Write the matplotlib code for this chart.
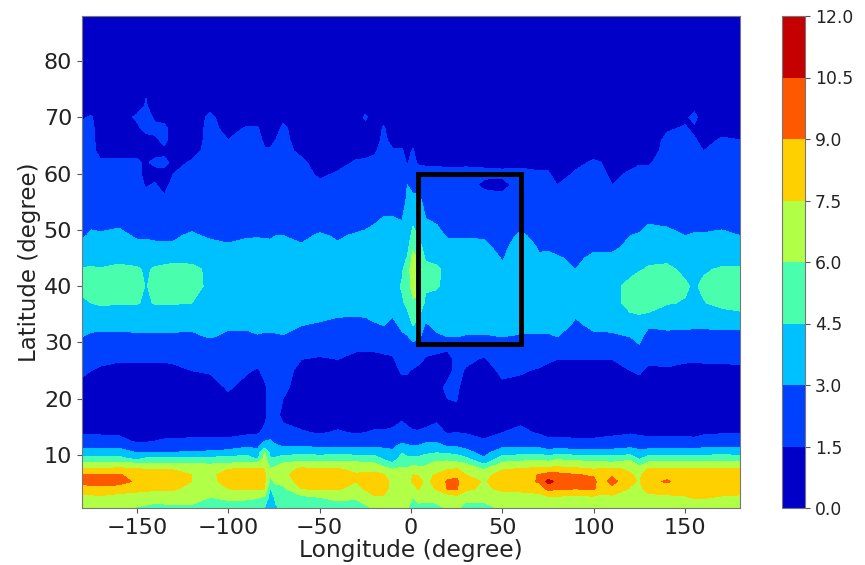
import numpy as np
import matplotlib
matplotlib.use("Agg")
import matplotlib.pyplot as plt

lats = [0.6, 2.5, 4, 5.3, 6.5, 7.5, 8.5, 9.5, 10.5, 11.5, 12.5, 14,
        17, 22, 25, 27, 29, 31, 33, 35, 37, 40, 43, 45, 47, 49, 51, 55, 58, 60, 62, 64, 66, 68, 70, 72, 88]

# values read column by column: longitude -> 12 low-latitude values, then 25 higher-latitude values
low_by_lon = {
 -180: [6.4,7.0,8.2,9.6,9.0,7.6,6.2,4.8,3.6,2.6,2.0,1.3],
 -175: [6.4,7.1,8.4,9.6,9.1,7.6,6.2,4.8,3.6,2.6,2.0,1.3],
 -170: [6.4,7.2,8.6,9.6,9.2,7.6,6.2,4.7,3.6,2.7,2.0,1.3],
 -160: [6.2,6.8,8.4,9.5,9.1,7.9,6.4,4.9,3.7,2.7,1.9,1.3],
 -150: [5.9,6.7,8.0,8.8,8.6,7.6,6.1,3.7,2.9,2.1,1.3,1.1],
 -145: [5.8,6.5,7.9,8.5,8.4,7.5,6.0,4.5,3.0,2.1,1.3,1.1],
 -140: [5.7,6.4,7.8,8.4,8.3,7.4,6.0,4.5,3.0,2.2,1.5,1.1],
 -135: [5.7,6.5,7.8,8.3,8.3,7.5,6.0,4.6,3.0,2.3,1.6,1.2],
 -130: [5.8,6.5,7.7,8.1,8.2,7.4,6.0,4.6,3.0,2.4,1.6,1.2],
 -120: [5.8,6.4,7.0,7.5,7.5,7.0,6.0,4.6,3.1,2.4,1.7,1.2],
 -110: [5.6,6.0,6.8,7.1,7.2,6.8,5.9,4.7,3.2,2.4,1.7,1.2],
 -100: [5.5,6.2,7.5,8.0,8.0,7.5,6.1,4.8,3.4,2.5,1.7,1.2],
 -90:  [5.4,6.2,7.7,8.3,8.3,7.7,6.2,5.0,3.9,2.9,2.0,1.3],
 -84:  [5.2,6.1,7.6,8.2,8.2,7.8,6.2,4.2,3.6,2.7,1.9,1.4],
 -80:  [4.4,5.8,7.5,7.6,7.6,7.5,7.0,6.5,6.1,4.0,3.0,1.7],
 -77:  [3.5,3.8,4.4,5.6,6.1,6.1,5.3,4.5,4.0,3.6,3.1,2.4],
 -74:  [4.3,4.8,5.6,6.3,6.6,6.3,5.7,4.6,3.8,3.2,2.7,2.2],
 -70:  [4.9,5.3,5.7,6.3,7.0,6.8,6.1,5.0,3.9,3.0,2.5,1.9],
 -60:  [4.6,5.6,7.5,8.3,8.4,7.8,6.5,5.3,3.9,3.0,2.4,1.6],
 -50:  [5.2,6.0,7.6,8.2,8.3,7.6,6.4,5.2,3.8,2.9,2.1,1.4],
 -40:  [5.4,6.3,7.6,8.2,8.2,7.6,6.5,5.3,3.9,2.9,2.2,1.6],
 -30:  [5.2,6.2,7.2,7.5,7.6,7.2,6.4,5.1,3.9,2.9,2.1,1.4],
 -25:  [5.6,6.8,7.6,7.9,7.8,7.1,6.2,5.0,3.8,2.9,2.1,1.5],
 -20:  [6.2,7.4,8.0,8.4,8.0,7.0,6.1,5.0,3.8,2.9,2.2,1.6],
 -15:  [6.0,7.4,7.9,7.9,7.6,6.6,5.2,4.2,3.5,2.8,2.2,1.6],
 -10:  [6.2,6.8,7.1,7.2,6.8,6.0,4.6,3.7,3.2,2.8,2.3,1.7],
 -5:   [6.1,6.5,7.0,7.1,6.8,6.2,5.6,5.0,4.4,3.5,2.7,1.7],
 -2:   [6.1,6.4,7.0,7.1,6.9,6.1,5.5,4.7,4.0,3.2,2.6,1.7],
 1:    [5.0,6.0,6.8,7.7,7.5,6.6,5.7,4.7,3.9,3.1,2.4,1.6],
 4:    [5.6,6.5,7.6,8.0,7.4,6.4,5.6,4.7,3.9,3.2,2.4,1.6],
 8:    [5.5,6.4,7.0,7.2,7.0,6.4,5.7,5.0,4.2,3.4,2.8,1.7],
 14:   [5.6,6.5,7.6,7.9,7.7,6.6,6.4,5.4,4.4,3.5,2.8,1.9],
 20:   [6.2,6.6,9.1,9.2,8.4,7.4,6.5,5.4,4.2,3.0,2.3,1.4],
 25:   [6.2,7.0,9.1,9.3,8.7,7.6,6.3,5.2,4.0,3.0,2.3,1.5],
 30:   [5.4,6.5,7.8,8.0,7.5,6.9,6.0,4.6,3.4,2.7,2.1,1.4],
 40:   [5.5,6.5,7.2,7.4,7.1,5.9,4.3,3.1,2.5,2.0,1.6,1.2],
 50:   [6.2,6.7,7.8,8.0,8.0,7.4,6.3,5.0,3.9,2.8,2.1,1.5],
 60:   [6.2,6.8,7.9,8.1,8.1,7.6,6.5,5.3,3.8,2.9,2.2,1.7],
 70:   [6.1,6.9,8.2,9.2,9.1,7.9,6.7,5.5,3.9,2.8,2.0,1.4],
 75:   [6.2,7.2,9.4,11.0,9.5,8.0,6.6,5.2,3.5,2.5,1.7,1.2],
 80:   [6.3,7.2,9.2,10.2,9.5,8.0,6.8,5.6,3.7,2.6,1.8,1.1],
 90:   [6.2,7.2,9.0,9.3,9.1,7.8,6.6,5.4,3.6,2.5,1.7,1.1],
 100:  [6.2,7.2,9.2,9.4,8.8,7.5,6.4,5.3,3.6,2.5,1.7,1.1],
 104:  [6.4,7.2,8.0,8.2,8.0,7.6,6.4,5.2,3.6,2.5,1.8,1.1],
 110:  [6.4,7.2,8.4,9.6,8.8,7.8,6.3,5.0,3.5,2.6,1.9,1.2],
 120:  [6.4,7.0,7.4,7.7,7.6,7.3,6.8,5.4,3.8,2.8,2.0,1.4],
 125:  [6.3,6.9,7.2,7.4,7.3,6.8,5.4,4.1,3.4,2.6,1.9,1.3],
 130:  [6.2,7.1,8.0,8.5,8.3,7.6,6.4,5.2,3.6,2.6,1.8,1.2],
 140:  [6.2,7.2,8.2,9.2,8.4,7.6,6.4,5.2,3.6,2.6,1.8,1.2],
 150:  [6.4,7.4,8.0,8.3,8.2,7.7,6.4,5.3,3.7,2.7,1.9,1.2],
 155:  [6.6,7.6,8.0,8.2,8.1,7.7,6.4,5.3,3.7,2.7,1.8,1.1],
 160:  [6.8,7.6,8.0,8.2,8.1,7.7,6.5,5.3,3.7,2.8,2.0,1.3],
 170:  [6.2,7.4,8.0,8.2,8.1,7.7,6.5,5.3,3.8,2.9,2.1,1.4],
 180:  [6.3,7.3,8.0,8.2,8.1,7.7,6.5,5.3,3.7,2.8,2.1,1.4],
}
high_by_lon = {
 -180: [.9,1.2,1.7,2.0,2.3,3.0,3.4,3.8,4.3,4.8,4.6,3.9,3.3,2.9,2.6,2.2,2.0,1.9,1.8,1.7,1.7,1.7,1.4,1.0,.5],
 -175: [.9,1.1,1.5,1.9,2.2,2.8,3.3,3.8,4.5,5.0,4.7,3.9,3.4,3.1,2.9,2.2,2.0,1.9,1.8,1.7,1.7,1.7,1.6,1.1,.5],
 -170: [.9,1.0,1.3,1.8,2.2,2.7,3.3,3.8,4.7,5.2,4.6,3.9,3.4,3.1,2.8,2.2,2.0,1.8,1.6,1.3,1.2,1.1,1.0,.9,.5],
 -160: [.8,.9,1.2,1.6,2.1,2.7,3.3,3.8,4.6,5.2,5.0,3.9,3.4,3.2,2.9,2.3,2.0,1.8,1.6,1.3,1.1,1.0,.9,.9,.5],
 -150: [.8,.9,1.2,1.6,2.2,2.8,3.3,3.8,4.6,5.1,4.7,3.9,3.2,2.9,2.6,2.2,1.9,1.8,1.6,1.3,1.1,1.2,1.7,1.0,.5],
 -145: [.8,.9,1.2,1.6,2.2,2.8,3.3,3.8,4.3,4.4,4.3,3.8,3.2,2.9,2.6,2.0,1.4,1.2,1.4,1.2,1.0,1.9,2.0,1.6,.5],
 -140: [.8,.9,1.2,1.6,2.2,2.8,3.3,3.8,4.6,5.0,4.7,3.9,3.1,2.9,2.6,2.2,1.6,1.2,1.7,1.2,1.3,1.8,1.3,.9,.5],
 -135: [.8,.9,1.2,1.6,2.2,2.8,3.3,3.8,4.6,5.1,4.9,3.9,3.1,2.9,2.6,1.8,1.1,1.2,1.8,1.2,1.8,1.8,1.1,.9,.5],
 -130: [.9,.9,1.2,1.7,2.3,2.8,3.3,3.7,4.6,5.1,5.2,3.9,3.1,2.9,2.6,2.2,1.9,1.5,1.2,1.0,1.0,1.0,.9,.9,.5],
 -120: [.9,1.2,1.5,1.9,2.3,2.7,3.3,3.7,4.5,5.0,5.0,3.9,3.3,3.1,2.8,2.2,2.0,1.8,1.6,1.2,1.0,.9,.9,.9,.5],
 -110: [.9,1.1,1.6,1.8,2.1,3.1,3.5,3.8,4.0,4.2,4.1,3.8,3.2,2.9,2.6,2.2,2.0,1.9,1.8,1.8,1.8,1.8,1.7,1.2,.5],
 -100: [.9,1.6,1.9,2.1,2.3,2.7,3.2,3.6,4.0,4.2,4.0,3.6,3.1,2.8,2.6,2.2,2.0,1.9,1.8,1.7,1.5,1.2,1.0,.9,.5],
 -90:  [.9,1.2,1.6,2.0,2.3,2.7,3.2,3.6,4.0,4.2,4.1,3.8,3.3,2.9,2.6,2.2,2.0,1.9,1.9,1.8,1.8,1.6,1.1,.9,.5],
 -84:  [1.0,1.2,1.4,1.8,2.2,2.9,3.3,3.6,4.0,4.2,4.1,3.9,3.4,2.9,2.6,2.2,2.0,1.9,1.9,1.8,1.8,1.6,1.1,.9,.5],
 -80:  [1.3,1.4,1.7,2.0,2.3,2.8,3.3,3.7,4.0,4.2,4.1,3.8,3.3,2.9,2.6,2.2,2.0,1.9,1.8,1.6,1.3,1.0,.9,.9,.5],
 -77:  [1.8,1.7,1.8,2.0,2.3,2.8,3.3,3.7,4.0,4.2,4.1,3.9,3.2,2.9,2.6,2.2,2.0,1.9,1.8,1.6,1.3,1.0,.9,.9,.5],
 -74:  [1.8,1.7,1.8,2.0,2.3,2.8,3.4,3.8,4.0,4.2,4.1,3.9,3.4,3.0,2.7,2.2,2.0,1.9,1.8,1.6,1.5,1.2,1.0,.9,.5],
 -70:  [1.2,1.7,1.9,2.0,2.4,2.9,3.4,3.7,4.0,4.2,4.1,3.8,3.3,3.0,2.7,2.3,2.1,2.0,1.9,1.8,1.8,1.7,1.3,.9,.5],
 -60:  [1.0,1.1,1.2,1.5,2.0,2.6,3.0,3.5,3.9,4.2,4.0,3.6,3.1,2.8,2.6,2.2,2.0,1.9,1.7,1.3,1.0,.9,.9,.9,.5],
 -50:  [.9,1.0,1.1,1.4,1.8,2.5,2.9,3.2,3.7,4.1,3.9,3.6,3.4,3.1,2.7,2.1,1.7,1.3,1.1,1.0,.9,.9,.9,.9,.5],
 -40:  [1.0,1.0,1.2,1.5,1.9,2.3,2.7,3.1,3.6,4.1,3.9,3.6,3.1,2.9,2.6,2.2,1.8,1.6,1.2,1.0,.9,.9,.9,.9,.5],
 -30:  [.9,1.0,1.1,1.3,1.6,2.1,2.6,3.1,3.6,4.0,3.9,3.7,3.5,3.1,2.7,2.2,2.0,1.8,1.6,1.2,1.0,.9,.9,.9,.5],
 -25:  [.9,1.0,1.1,1.3,1.6,2.1,2.7,3.1,3.6,4.0,3.9,3.7,3.5,3.2,2.8,2.3,2.0,1.8,1.6,1.3,1.0,.9,1.7,.9,.5],
 -20:  [1.0,1.1,1.2,1.3,1.6,2.2,2.9,3.2,3.6,4.0,3.9,3.7,3.5,3.3,3.0,2.4,2.1,1.9,1.7,1.4,1.1,1.0,.9,.9,.5],
 -15:  [1.0,1.1,1.2,1.3,1.7,2.3,3.0,3.3,3.7,4.0,4.0,3.8,3.6,3.4,3.2,2.6,2.2,2.0,1.9,1.8,1.7,1.6,1.2,.9,.5],
 -10:  [1.0,1.1,1.2,1.4,1.7,2.4,2.7,3.1,3.6,4.1,4.0,3.9,3.7,3.5,3.2,2.6,2.2,2.0,1.9,1.6,1.2,1.0,.9,.9,.5],
 -5:   [1.4,1.2,1.6,2.0,2.3,2.8,3.2,3.7,4.3,4.6,4.3,4.0,3.7,3.4,3.1,2.5,2.1,1.9,1.8,1.6,1.2,1.0,.9,.9,.5],
 -2:   [1.2,1.1,1.6,2.0,2.4,2.9,3.6,4.2,4.8,5.1,5.2,4.6,4.0,3.6,3.3,3.2,3.0,2.2,1.4,1.2,1.0,.9,.9,.9,.5],
 1:    [1.0,1.0,1.4,2.0,2.6,3.3,4.5,5.3,5.8,6.6,7.0,6.4,5.8,5.0,4.4,3.4,2.6,2.2,1.9,1.6,1.2,1.0,.9,.9,.5],
 4:    [.9,.9,1.2,1.8,2.4,3.2,4.0,4.8,5.6,6.4,6.6,5.8,5.1,4.4,3.9,3.3,2.7,2.1,1.3,1.1,1.0,.9,.9,.9,.5],
 8:    [1.0,.9,1.2,1.4,1.8,2.6,2.8,3.5,4.2,4.7,5.0,4.3,3.9,3.5,3.1,2.7,2.3,1.9,1.3,1.1,1.0,.9,.9,.9,.5],
 14:   [1.2,1.2,1.3,1.3,1.7,2.8,3.3,3.7,4.1,4.6,4.7,4.2,3.7,3.3,3.0,2.5,2.2,1.9,1.3,1.1,1.0,.9,.9,.9,.5],
 20:   [1.2,1.7,1.2,1.2,1.6,3.0,3.5,3.7,4.0,4.2,4.2,3.8,3.3,2.9,2.5,2.1,1.9,1.7,1.3,1.1,1.0,.9,.9,.9,.5],
 25:   [1.3,1.7,1.8,1.7,1.9,3.0,3.5,3.7,4.0,4.2,4.2,3.8,3.3,2.9,2.5,2.1,1.9,1.7,1.3,1.1,1.0,.9,.9,.9,.5],
 30:   [1.0,1.0,1.4,1.7,2.0,2.9,3.4,3.7,4.0,4.1,4.1,3.8,3.3,2.9,2.5,2.1,1.9,1.8,1.3,1.1,1.0,.9,.9,.9,.5],
 40:   [.9,.9,1.1,1.4,1.9,2.9,3.3,3.6,4.0,4.2,4.1,3.8,3.2,2.9,2.4,2.0,1.3,1.7,1.3,1.1,1.0,.9,.9,.9,.5],
 50:   [1.2,1.3,1.7,2.0,2.4,3.0,3.4,3.7,4.0,4.2,3.2,2.9,2.7,2.5,2.3,1.9,1.2,1.7,1.2,1.0,.9,.9,.9,.9,.5],
 60:   [1.2,1.2,1.6,1.9,2.3,2.9,3.3,3.6,4.0,4.1,4.2,3.9,3.6,3.2,2.7,2.2,1.9,1.7,1.3,1.1,1.0,.9,.9,.9,.5],
 70:   [1.0,1.0,1.4,1.8,2.2,2.8,3.4,3.7,4.0,4.1,3.8,3.1,2.9,2.6,2.4,2.0,1.7,1.6,1.2,1.0,.9,.9,.9,.9,.5],
 75:   [1.0,1.0,1.3,1.6,2.1,2.8,3.4,3.7,4.0,4.1,3.8,3.3,2.8,2.6,2.4,2.0,1.7,1.6,1.2,1.0,.9,.9,.9,.9,.5],
 80:   [.9,1.0,1.2,1.5,1.9,3.0,3.5,3.7,4.0,4.1,3.7,3.1,2.7,2.5,2.2,1.8,1.5,1.1,.9,.9,.9,.9,.9,.9,.5],
 90:   [.9,1.0,1.2,1.5,2.1,2.4,2.8,3.1,3.6,4.0,3.0,2.8,2.6,2.4,2.2,1.9,1.7,1.6,1.3,1.0,.9,.9,.9,.9,.5],
 100:  [.9,1.0,1.2,1.5,1.9,2.8,3.2,3.6,4.0,4.1,3.7,3.2,2.8,2.6,2.4,2.0,1.8,1.7,1.6,1.2,1.0,.9,.9,.9,.5],
 104:  [.9,1.0,1.2,1.5,1.8,2.8,3.2,3.6,4.0,4.1,3.8,3.2,2.8,2.6,2.4,2.0,1.8,1.7,1.5,1.1,.9,.9,.9,.9,.5],
 110:  [.9,1.0,1.2,1.5,1.8,2.8,3.3,3.7,4.0,4.1,3.9,3.2,2.8,2.6,2.4,2.1,1.5,1.3,1.0,.9,.9,.9,.9,.9,.5],
 120:  [1.0,1.2,1.5,1.9,2.7,3.0,3.4,4.4,5.0,4.9,4.1,3.7,3.2,3.0,2.6,2.2,1.9,1.6,1.3,1.0,.9,.9,.9,.9,.5],
 125:  [1.0,1.2,1.6,2.3,2.9,3.2,3.6,4.5,5.2,5.2,4.4,3.9,3.4,3.1,2.7,2.3,2.0,1.8,1.4,1.0,.9,.9,.9,.9,.5],
 130:  [.9,1.1,1.3,1.7,2.1,2.6,3.1,4.4,5.0,5.4,4.6,4.3,3.8,3.3,3.0,2.5,2.1,1.7,1.4,1.1,1.0,.9,.9,.9,.5],
 140:  [.9,1.1,1.4,1.7,2.1,2.7,3.2,3.8,4.6,4.7,4.8,4.2,3.7,3.3,2.9,2.4,2.2,2.0,1.9,1.8,1.7,1.4,1.0,.9,.5],
 150:  [.9,1.0,1.3,1.6,2.0,2.6,3.2,3.9,4.4,4.7,4.2,3.8,3.4,3.0,2.7,2.3,2.1,1.9,1.8,1.7,1.7,1.6,1.3,.9,.5],
 155:  [.9,1.0,1.2,1.6,2.0,2.5,3.2,3.8,4.2,4.3,4.2,3.8,3.4,3.1,2.7,2.3,2.1,1.9,1.8,1.7,1.6,1.3,1.8,1.2,.5],
 160:  [.9,1.0,1.3,1.6,2.0,2.5,3.2,3.8,4.4,4.8,4.3,3.9,3.4,3.1,2.7,2.3,2.1,1.9,1.8,1.5,1.2,1.0,.9,.9,.5],
 170:  [1.0,1.1,1.3,1.6,2.0,2.6,3.2,3.9,5.0,5.4,4.7,3.9,3.5,3.2,2.8,2.4,2.1,1.9,1.7,1.6,1.6,1.2,1.0,.9,.5],
 180:  [1.0,1.1,1.4,1.6,2.0,2.6,3.2,4.3,5.0,5.2,4.7,3.9,3.4,3.0,2.7,2.4,2.1,1.9,1.8,1.7,1.5,1.3,1.5,1.0,.5],
}
levels = [0, 1.5, 3, 4.5, 6, 7.5, 9, 10.5, 12]
box_lon = [4, 60, 60, 4, 4]
box_lat = [29.7, 29.7, 60, 60, 29.7]

lons = sorted(low_by_lon)
field = np.array([low_by_lon[lo] + high_by_lon[lo] for lo in lons]).T

fig = plt.figure(figsize=(8.65, 5.65), dpi=100)
W, H = 865, 565
ax = fig.add_axes([82 / W, (H - 508) / H, 658 / W, 492 / H])
cs = ax.contourf(lons, lats, field, levels=levels, cmap="jet", vmin=0, vmax=12)
ax.plot(box_lon, box_lat, color="black", lw=3.5, solid_joinstyle="miter")
ax.set_xlim(-180, 180)
ax.set_ylim(0.6, 88)
ax.set_xticks([-150, -100, -50, 0, 50, 100, 150])
ax.set_yticks(range(10, 90, 10))
ax.tick_params(labelsize=16, color="#555555", labelcolor="#222222")
ax.set_xlabel("Longitude (degree)", fontsize=16.8, labelpad=1, color="#222222")
ax.set_ylabel("Latitude (degree)", fontsize=16.5, labelpad=2, color="#222222")
for s in ax.spines.values():
    s.set_color("#777777")

cax = fig.add_axes([782 / W, (H - 508) / H, 23 / W, 492 / H])
cb = fig.colorbar(cs, cax=cax, ticks=levels)
cb.ax.set_yticklabels([f"{v:.1f}" for v in levels])
cb.ax.tick_params(labelsize=12.3, color="#555555", labelcolor="#222222")
cb.outline.set_edgecolor("#777777")

fig.savefig("out.png", dpi=100)
